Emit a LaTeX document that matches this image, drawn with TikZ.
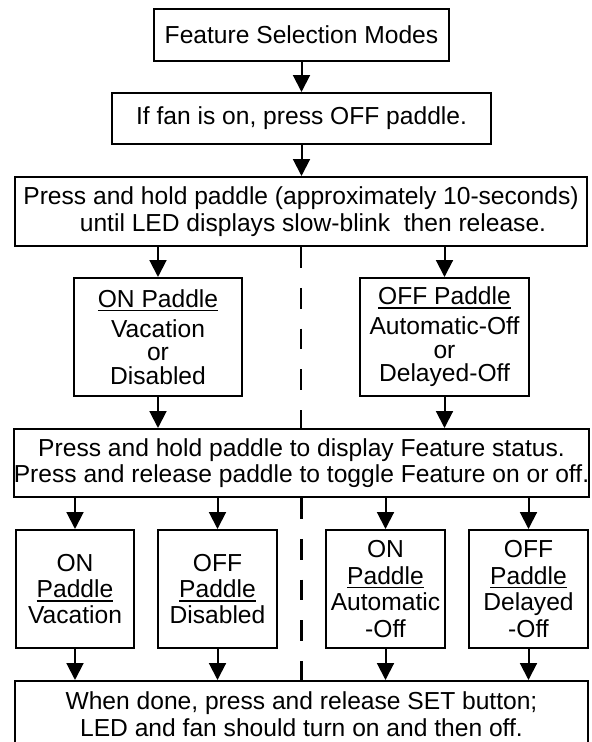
\documentclass[tikz,border=0pt]{standalone}
\usepackage{fontspec}
\setmainfont{Liberation Sans}
\usetikzlibrary{arrows.meta}
\newsavebox\padbox
\def\padul#1{\sbox\padbox{#1}\rlap{\rule[-3pt]{\wd\padbox}{1.3pt}}\usebox\padbox}
\tikzset{
	box/.style={draw, line width=0.05cm, inner sep=0, align=center, font=\fontsize{17.5}{18.8}\selectfont},
	arr/.style={line width=0.05cm, -{Triangle[length=0.42cm, width=0.42cm]}},
	split/.style={line width=0.065cm, dash pattern=on 0.52cm off 0.5cm}
}

\begin{document}
\begin{tikzpicture}
		%%%%% START %%%%%
		
		\useasboundingbox (0, 0) rectangle (14.8, -18.55);
		
		\node[box, minimum width=7.375cm, minimum height=1.3cm] (modes) at (7.5375, -0.875) {Feature Selection Modes};
		\node[box, minimum width=9.475cm, minimum height=1.275cm] (fanoff) at (7.5375, -2.9625) {If fan is on, press OFF paddle.};
		\node[box, minimum width=14.3cm, minimum height=1.725cm] (hold) at (7.525, -5.2875) {Press and hold paddle (approximately 10-seconds)\\\hspace*{0.6cm}until LED displays slow-blink~ then release.};
		
		\node[box, minimum width=4.2cm, minimum height=2.95cm] (onpad) at (3.95, -8.425) {\padul{ON Paddle}\\[2.5pt]Vacation\\[-2pt]or\\[-2pt]Disabled};
		\node[box, minimum width=4.225cm, minimum height=2.95cm] (offpad) at (11.1125, -8.425) {\padul{OFF Paddle}\\[2.5pt]Automatic-Off\\[-2pt]or\\[-2pt]Delayed-Off};
		
		\node[box, minimum width=14.325cm, minimum height=1.7cm] (toggle) at (7.5375, -11.575) {Press and hold paddle to display Feature status.\\Press and release paddle to toggle Feature on or off.};
		
		\node[box, minimum width=2.95cm, minimum height=2.95cm] (vac) at (1.875, -14.725) {ON\\\padul{Paddle}\\Vacation};
		\node[box, minimum width=2.975cm, minimum height=2.95cm] (dis) at (5.4375, -14.725) {OFF\\\padul{Paddle}\\Disabled};
		\node[box, minimum width=2.975cm, minimum height=2.95cm] (auto) at (9.6375, -14.725) {ON\\\padul{Paddle}\\Automatic\\-Off};
		\node[box, minimum width=2.975cm, minimum height=2.95cm] (delay) at (13.2125, -14.725) {OFF\\\padul{Paddle}\\Delayed\\-Off};
		
		\node[box, minimum width=14.325cm, minimum height=1.65cm] (done) at (7.5375, -17.85) {When done, press and release SET button;\\LED and fan should turn on and then off.};
		
		\draw[arr] (modes) -- (fanoff);
		\draw[arr] (fanoff) -- (fanoff |- hold.north);
		
		\draw[arr] (onpad.north |- hold.south) -- (onpad.north);
		\draw[arr] (offpad.north |- hold.south) -- (offpad.north);
		\draw[arr] (onpad.south) -- (onpad.south |- toggle.north);
		\draw[arr] (offpad.south) -- (offpad.south |- toggle.north);
		
		\draw[arr] (vac.north |- toggle.south) -- (vac.north);
		\draw[arr] (dis.north |- toggle.south) -- (dis.north);
		\draw[arr] (auto.north |- toggle.south) -- (auto.north);
		\draw[arr] (delay.north |- toggle.south) -- (delay.north);
		\draw[arr] (vac.south) -- (vac.south |- done.north);
		\draw[arr] (dis.south) -- (dis.south |- done.north);
		\draw[arr] (auto.south) -- (auto.south |- done.north);
		\draw[arr] (delay.south) -- (delay.south |- done.north);
		
		\draw[split] (hold.south) -- (hold.south |- toggle.north);
		\draw[split] (toggle.south) -- (toggle.south |- done.north);
		
		%%%%% END %%%%%
	\end{tikzpicture}
\end{document}
